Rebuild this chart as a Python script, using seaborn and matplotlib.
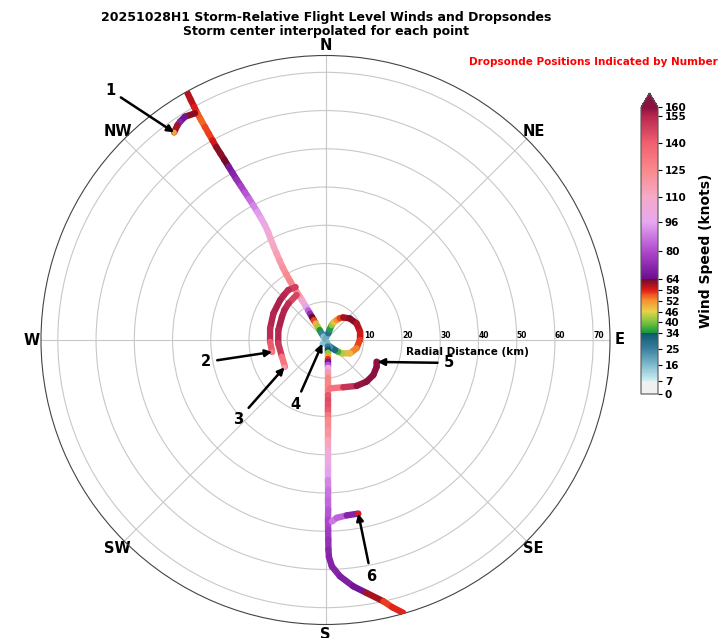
import numpy as np
import matplotlib
matplotlib.use("Agg")
import matplotlib.pyplot as plt
import seaborn as sns
import pandas as pd
from matplotlib.collections import LineCollection
from matplotlib.colors import LinearSegmentedColormap, Normalize
from matplotlib.cm import ScalarMappable

sns.set_style("white")
plt.rcParams["font.family"] = ["DejaVu Sans"]
plt.rcParams["text.color"] = "black"
plt.rcParams["axes.labelcolor"] = "black"
plt.rcParams["xtick.color"] = "black"
plt.rcParams["ytick.color"] = "black"

# ---------------- data (bearing deg from N clockwise, radius km, wind kt) ----------------
# NW inbound leg (outer edge -> storm centre)
legA_r = [74, 72, 70, 68, 66, 64, 62, 60, 58, 56, 54, 52, 50, 48, 46, 44, 42, 40, 38, 36, 34, 32,
          30, 28, 26, 24, 22, 20, 18, 16, 14, 12, 10, 9, 8, 7, 6, 5, 4, 3, 2, 1, 0.3]
legA_brg = [330.8, 330.7, 330.6, 330.5, 330.5, 330.5, 330.5, 330.5, 330.5, 330.6, 330.7, 330.8, 330.9,
            331.0, 331.2, 331.4, 331.6, 331.8, 332.0, 332.1, 332.2, 332.0, 331.5, 331.0, 330.5, 330.0,
            329.5, 329.2, 329.0, 329.0, 329.2, 329.5, 329.6, 329.6, 329.6, 329.6, 329.6, 329.6,
            329.6, 329.6, 329.6, 329.6, 329.6]
legA_wind = [61, 60, 60, 56, 54, 55, 57, 56, 62, 63, 62, 66, 69, 72, 76, 80, 84, 88, 92, 96, 100, 104,
             107, 110, 113, 116, 120, 123, 126, 128, 122, 112, 100, 90, 78, 68, 60, 52, 46, 39, 30, 20, 10]

# Branch to dropsonde 1
leg1_r = [68.4, 69.0, 68.6, 68.2, 67.2]
leg1_brg = [330.1, 327.8, 326.3, 325.4, 323.9]
leg1_wind = [62, 63, 68, 72, 50]

# Outer western arc to dropsonde 2
leg2_r = [15.9, 16.3, 16.0, 15.8, 15.3, 14.8, 14.5, 14.3]
leg2_brg = [330.5, 323.4, 317.0, 311.3, 297.1, 281.9, 268.2, 257.4]
leg2_wind = [145, 153, 155, 156, 156, 155, 153, 130]

# Inner western arc to dropsonde 3
leg3_r = [14.0, 13.6, 13.3, 12.9, 12.6, 12.4, 12.2, 12.7]
leg3_brg = [327.4, 314.6, 306.0, 298.0, 282.0, 266.0, 249.1, 236.6]
leg3_wind = [142, 153, 155, 156, 156, 154, 146, 118]

# Eye loop
loop_r = [0.3, 1.9, 3.0, 4.2, 5.1, 6.0, 6.8, 7.5, 8.5, 9.2, 9.3, 9.0, 8.4, 7.3, 5.5, 4.5, 3.6, 2.1, 0.8]
loop_brg = [0, 22.7, 22.0, 22.5, 25.0, 29.2, 33.0, 38.1, 48.5, 61.8, 76.5, 90.0, 104.9, 118.5,
            129.4, 133.0, 136.5, 146.0, 170.0]
loop_wind = [12, 25, 32, 38, 45, 50, 54, 58, 65, 61, 60, 58, 55, 51, 46, 40, 34, 27, 18]

# Southern outbound leg (centre -> outer edge)
legS_r = [0.8, 1.8, 2.6, 3.4, 4.2, 5.0, 5.7, 6.5, 7.3, 8.4, 9.9, 11.7, 13.1, 14.4, 15.7, 17.0,
          18.3, 19.6, 20.9, 23.5, 26.1, 28.7, 31.3, 33.9, 36.6, 39.2, 41.8, 44.4, 47.0, 49.6,
          52.2, 54.8, 56.7, 59.2, 61.9, 64.8, 67.0, 70.0, 72.0, 74.2]
legS_brg = [150, 160, 166, 169, 171, 172.6, 173.5, 174.3, 174.9, 175.6, 176.2, 176.8, 177.1,
            177.4, 177.6, 177.8, 178.0, 178.1, 178.2, 178.4, 178.6, 178.7, 178.8, 178.9, 179.0,
            179.0, 179.1, 179.1, 179.2, 179.2, 179.2, 179.2, 179.1, 178.4, 176.5, 173.6, 170.8,
            167.5, 166.0, 164.1]
legS_wind = [12, 22, 30, 37, 46, 54, 60, 72, 90, 110, 125, 128, 125, 135, 150, 140, 148, 135, 128,
             122, 118, 108, 103, 98, 92, 88, 86, 84, 80, 78, 75, 72, 70, 70, 70, 68, 64, 58, 55, 60]

# Branch to dropsonde 5
leg5_r = [12.7, 13.2, 14.5, 15.3, 15.5, 15.1, 14.5]
leg5_brg = [174.7, 159.4, 145.9, 135.3, 126.2, 117.5, 113.0]
leg5_wind = [122, 145, 158, 160, 161, 161, 162]

# Branch to dropsonde 6
leg6_r = [47.5, 46.6, 46.2, 46.2]
leg6_brg = [178.0, 176.4, 173.1, 169.3]
leg6_wind = [90, 86, 82, 58]

# Dropsonde positions
drop_id = ["1", "2", "3", "4", "5", "6"]
drop_r = [67.2, 14.3, 12.9, 1.3, 14.8, 46.2]
drop_brg = [323.9, 257.4, 236.3, 220.0, 112.8, 169.3]
drop_wind = [50, 130, 118, 15, 162, 58]
# label offsets (pixels) relative to drop positions
drop_dx = [-64, -66, -46, -27, 71, 13]
drop_dy = [42, -10, -52, -61, -1, -63]

# Colour bar definition
cb_ticks = [0, 7, 16, 25, 34, 40, 46, 52, 58, 64, 80, 96, 110, 125, 140, 155, 160]
cmap_nodes = [(0, "#f0f0f0"), (7, "#f0f0f0"), (7, "#d2f1f4"), (16, "#80bccc"), (25, "#3a80a0"),
              (34, "#0b586c"), (34, "#14973c"), (40, "#78c440"), (46, "#e8d24a"),
              (52, "#f59232"), (55, "#f05c22"), (58, "#e01a18"), (64, "#700a28"),
              (64, "#6a0c8c"), (80, "#b04ad0"), (96, "#e6a8f0"), (110, "#f6aac8"),
              (125, "#f88a8c"), (140, "#f26070"), (155, "#b82850"), (160, "#8c1040")]
compass = ["N", "NE", "E", "SE", "S", "SW", "W", "NW"]
r_ticks = [10, 20, 30, 40, 50, 60, 70]

# ---------------- figure ----------------
vmax = 160
cmap = LinearSegmentedColormap.from_list(
    "wind", [(v / vmax, c) for v, c in cmap_nodes], N=512)
cmap.set_over("#8c1040")
norm = Normalize(0, vmax)

fig = plt.figure(figsize=(7.2, 6.38), dpi=100)
ax = fig.add_axes([41 / 720, 13 / 638, 569 / 720, 570 / 638], projection="polar")
ax.set_theta_zero_location("N")
ax.set_theta_direction(-1)
ax.set_facecolor("white")

legs = [(legA_brg, legA_r, legA_wind), (leg1_brg, leg1_r, leg1_wind),
        (leg2_brg, leg2_r, leg2_wind), (leg3_brg, leg3_r, leg3_wind),
        (loop_brg, loop_r, loop_wind), (legS_brg, legS_r, legS_wind),
        (leg5_brg, leg5_r, leg5_wind), (leg6_brg, leg6_r, leg6_wind)]
for brg, rr, ww in legs:
    th = np.radians(np.asarray(brg, float))
    rr = np.asarray(rr, float)
    ww = np.asarray(ww, float)
    pts = np.column_stack([th, rr]).reshape(-1, 1, 2)
    segs = np.concatenate([pts[:-1], pts[1:]], axis=1)
    lc = LineCollection(segs, cmap=cmap, norm=norm, linewidths=4.6,
                        capstyle="round", joinstyle="round", zorder=3)
    lc.set_array(0.5 * (ww[:-1] + ww[1:]))
    ax.add_collection(lc)

drops = pd.DataFrame({"theta": np.radians(drop_brg), "r": drop_r, "wind": drop_wind})
sns.scatterplot(data=drops, x="theta", y="r", hue="wind", palette=cmap, hue_norm=norm,
                s=16, linewidth=0, legend=False, ax=ax, zorder=4)
ax.set_xlabel("")
ax.set_ylabel("")

ax.set_rlim(0, 74.4)
ax.set_xticks(np.radians(np.arange(0, 360, 45)))
ax.set_xticklabels(compass, fontsize=10.5, fontweight="bold")
ax.set_yticks(r_ticks)
ax.set_yticklabels([str(t) for t in r_ticks], fontsize=5.5, fontweight="bold")
ax.set_rlabel_position(90)
ax.grid(True, color="#c8c8c8", linewidth=0.8)
ax.spines["polar"].set_color("#444444")
ax.spines["polar"].set_linewidth(0.8)
ax.tick_params(axis="x", pad=-3.5)

for i in range(len(drop_id)):
    ax.annotate(drop_id[i], xy=(np.radians(drop_brg[i]), drop_r[i]),
                xytext=(drop_dx[i], drop_dy[i]), textcoords="offset pixels",
                fontsize=10.5, fontweight="bold", ha="center", va="center",
                annotation_clip=False, zorder=6,
                arrowprops=dict(arrowstyle="-|>", color="black", lw=1.8,
                                mutation_scale=10, shrinkA=2, shrinkB=0))

fig.text(467 / 720, 1 - 352 / 638, "Radial Distance (km)", fontsize=7.5,
         fontweight="bold", ha="center", va="center")
fig.text(326 / 720, 1 - 17 / 638,
         "20251028H1 Storm-Relative Flight Level Winds and Dropsondes",
         fontsize=9, fontweight="bold", ha="center", va="center")
fig.text(326 / 720, 1 - 31 / 638, "Storm center interpolated for each point",
         fontsize=9, fontweight="bold", ha="center", va="center")
fig.text(718 / 720, 1 - 62 / 638, "Dropsonde Positions Indicated by Number",
         fontsize=7.5, fontweight="bold", color="red", ha="right", va="center")

cax = fig.add_axes([641 / 720, (638 - 394) / 638, 17 / 720, (394 - 93) / 638])
cb = fig.colorbar(ScalarMappable(norm=norm, cmap=cmap), cax=cax, extend="max",
                  ticks=cb_ticks)
cb.ax.set_yticklabels([str(t) for t in cb_ticks], fontsize=7.5, fontweight="bold")
cb.ax.tick_params(length=3, width=0.8, pad=2, colors="black")
cb.outline.set_edgecolor("#555555")
cb.outline.set_linewidth(0.8)
cb.set_label("Wind Speed (knots)", fontsize=10, fontweight="bold", labelpad=9)

fig.savefig("out.png", dpi=100)
